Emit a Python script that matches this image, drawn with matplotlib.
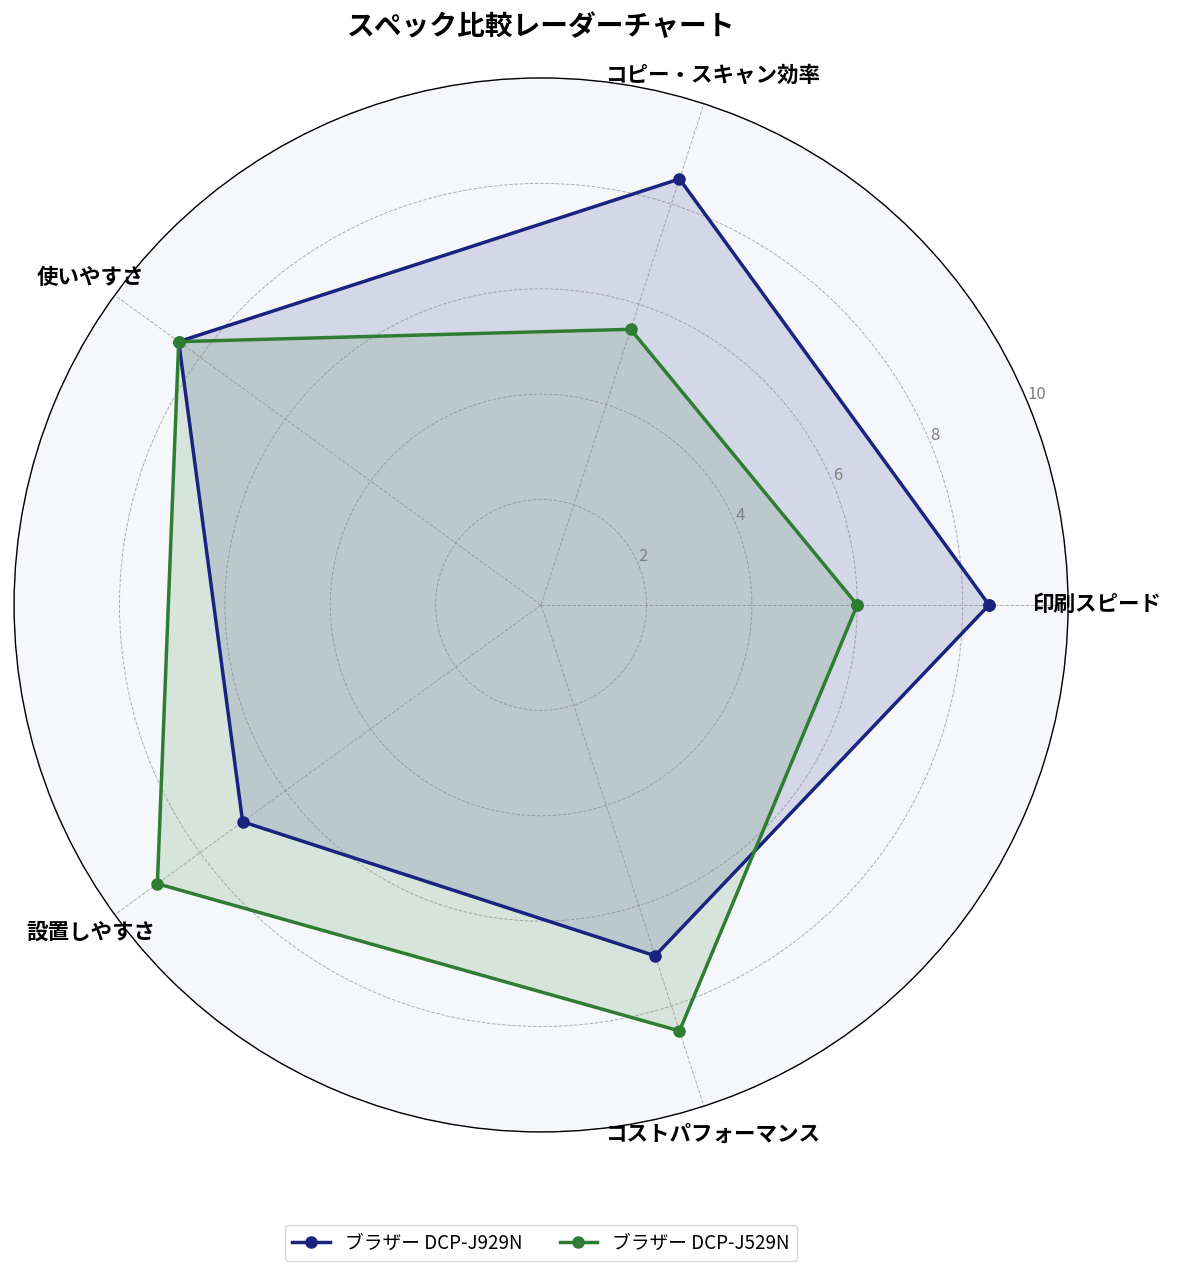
import numpy as np
import matplotlib
matplotlib.use("Agg")
import matplotlib.pyplot as plt

plt.rcParams['font.family'] = ['Noto Sans CJK JP', 'DejaVu Sans']

categories = ["印刷スピード", "コピー・スキャン効率", "使いやすさ", "設置しやすさ", "コストパフォーマンス"]
series_names = ["ブラザー DCP-J929N", "ブラザー DCP-J529N"]
values_j929n = [8.5, 8.5, 8.5, 7.0, 7.0]
values_j529n = [6.0, 5.5, 8.5, 9.0, 8.5]
colors = ["#1a237e", "#2e7d32"]
rticks = [2, 4, 6, 8, 10]

n = len(categories)
angles = np.linspace(0, 2 * np.pi, n, endpoint=False).tolist()
angles_closed = angles + angles[:1]

fig = plt.figure(figsize=(11.81, 12.76), dpi=100)
ax = fig.add_axes([0.0119, 0.1129, 0.8925, 0.826], projection='polar')
ax.set_facecolor("#f5f7fa")

for vals, name, c in zip([values_j929n, values_j529n], series_names, colors):
    v = vals + vals[:1]
    ax.plot(angles_closed, v, color=c, linewidth=2.5, marker='o', markersize=8, label=name)
    ax.fill(angles_closed, v, color=c, alpha=0.15)

ax.set_ylim(0, 10)
ax.set_yticks(rticks)
ax.set_yticklabels([str(t) for t in rticks], color="gray", fontsize=12)
ax.set_rlabel_position(22.5)
ax.set_xticks(angles)
ax.set_xticklabels(categories, fontsize=15.5, fontweight='bold')
ax.tick_params(axis='x', pad=11)
ax.grid(color='gray', linestyle='--', linewidth=0.7, alpha=0.6)
ax.spines['polar'].set_color('black')
ax.spines['polar'].set_linewidth(1.0)

fig.text(0.458, 0.979, "スペック比較レーダーチャート", ha='center', va='center',
         fontsize=20, fontweight='bold')

fig.legend(loc='center', bbox_to_anchor=(0.458, 0.026), ncol=2, fontsize=13.5,
           frameon=True, edgecolor='#cccccc', handlelength=2.0)

fig.savefig("out.png", dpi=100)
